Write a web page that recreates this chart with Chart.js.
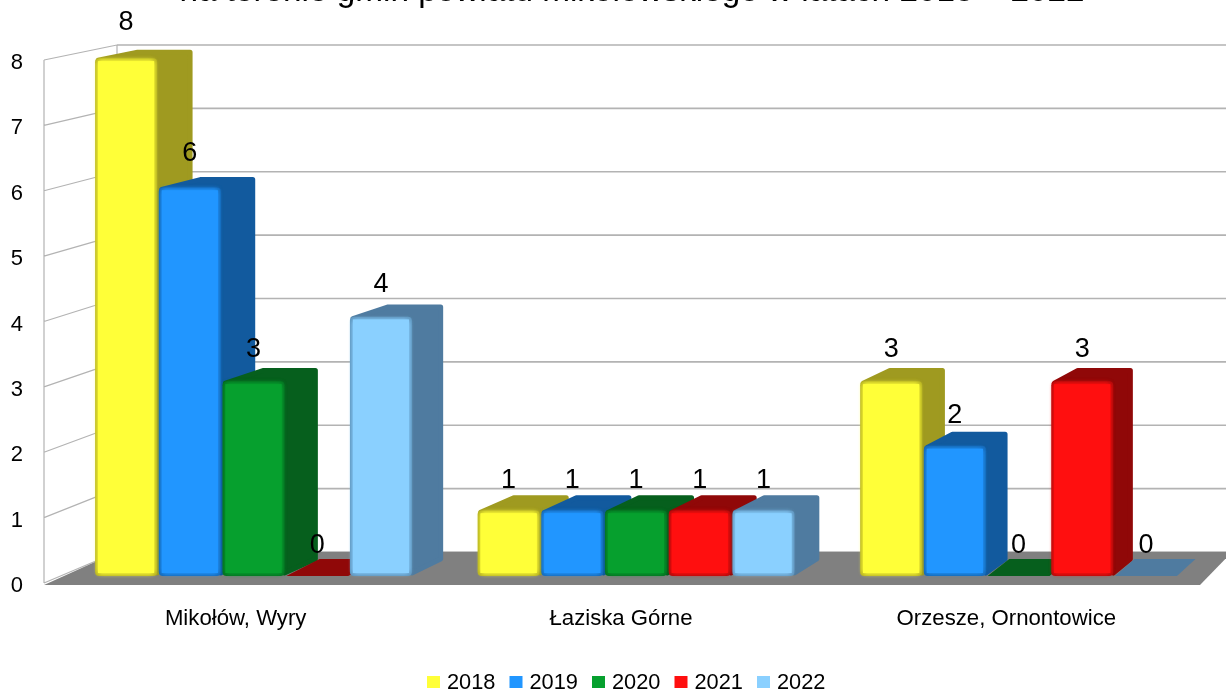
<!DOCTYPE html>
<html lang="pl">
<head>
<meta charset="utf-8">
<title>Wykres</title>
<script src="https://cdn.jsdelivr.net/npm/chart.js@4"></script>
<style>
    html, body { margin: 0; padding: 0; background: #fff; overflow: hidden; }
    canvas { display: block; }
</style>
</head>
<body>
<canvas id="mychart" width="1226" height="691"></canvas>
<script>
const titleText = 'na terenie gmin powiatu mikołowskiego w latach 2018 – 2022'
const categories = ['Mikołów, Wyry', 'Łaziska Górne', 'Orzesze, Ornontowice']
const years = ['2018', '2019', '2020', '2021', '2022']
const values2018 = [8, 1, 3]
const values2019 = [6, 1, 2]
const values2020 = [3, 1, 0]
const values2021 = [0, 1, 3]
const values2022 = [4, 1, 0]
const yTicks = [0, 1, 2, 3, 4, 5, 6, 7, 8]

const frontColors = ['#ffff38', '#2196ff', '#06a02e', '#ff0f0f', '#8ad0ff']
const edgeColors = ['#b5b022', '#1668b5', '#067022', '#b00c0c', '#5f94bd']
const sideColors = ['#9f9a20', '#125a9e', '#065f1d', '#900808', '#4f7ba0']
const fontName = '"Liberation Sans", Arial, sans-serif'

// przejscie ze skali wykresu na plaszczyzne tylnej sciany i przednia sciane slupkow
const backX = x => x + 73 - (x - 44) * 0.0355
const backY = y => 552 - (583 - y) * 0.9694
const barX = x => 62.25 + (x - 44) * 0.9927
const barY = y => 576 - (583 - y) * 0.988
const depthX = x => 36.5 - (x - 95) * 0.0166
const depthY = y => 9.5 + (y - 59) * 0.0145

function drawWalls(chart) {
    const ctx = chart.ctx
    const yScale = chart.scales.y
    const area = chart.chartArea

    ctx.save()
    ctx.strokeStyle = '#b3b3b3'
    ctx.lineWidth = 1.2
    ctx.beginPath()
    ctx.moveTo(area.left, yScale.getPixelForValue(8))
    ctx.lineTo(area.left, area.bottom)
    ctx.moveTo(backX(area.left), backY(yScale.getPixelForValue(8)))
    ctx.lineTo(backX(area.left), backY(area.bottom))
    yTicks.forEach(v => {
        const y = yScale.getPixelForValue(v)
        ctx.moveTo(area.left, y)
        ctx.lineTo(backX(area.left), backY(y))
    })
    ctx.stroke()

    ctx.lineWidth = 1.6
    ctx.beginPath()
    yTicks.forEach(v => {
        const y = backY(yScale.getPixelForValue(v))
        ctx.moveTo(backX(area.left), y)
        ctx.lineTo(backX(area.right), y)
    })
    ctx.stroke()

    // podloga
    ctx.fillStyle = '#808080'
    ctx.beginPath()
    ctx.moveTo(area.left, area.bottom + 2)
    ctx.lineTo(area.right, area.bottom + 2)
    ctx.lineTo(backX(area.right), backY(area.bottom))
    ctx.lineTo(backX(area.left), backY(area.bottom))
    ctx.closePath()
    ctx.fill()
    ctx.restore()
}

function drawBar(ctx, el, index) {
    const w = el.width * 0.9927 - 1.7
    const x0 = barX(el.x) - w / 2
    const x1 = x0 + w
    const top = barY(el.y)
    const bottom = barY(el.base)

    ctx.fillStyle = sideColors[index]
    ctx.strokeStyle = sideColors[index]
    ctx.lineJoin = 'round'

    if (top >= bottom - 1) {
        // wartosc 0 - plaski prostokat na podlodze
        ctx.beginPath()
        ctx.moveTo(x0, bottom)
        ctx.lineTo(x1, bottom)
        ctx.lineTo(x1 + depthX(x1), bottom - depthY(bottom))
        ctx.lineTo(x0 + depthX(x0), bottom - depthY(bottom))
        ctx.closePath()
        ctx.fill()
        return
    }

    ctx.lineWidth = 5
    ctx.beginPath()
    ctx.moveTo(x0 + 3, top + 1)
    ctx.lineTo(x0 + depthX(x0) + 6, top - depthY(top) + 2.5)
    ctx.lineTo(x1 + depthX(x1) - 2.5, top - depthY(top) + 2.5)
    ctx.lineTo(x1 + depthX(x1) - 2.5, bottom - depthY(bottom))
    ctx.lineTo(x1, bottom - 3)
    ctx.closePath()
    ctx.fill()
    ctx.stroke()

    ctx.fillStyle = edgeColors[index]
    ctx.beginPath()
    ctx.roundRect(x0, top - 1, w, bottom - top + 1, 4)
    ctx.fill()

    ctx.save()
    ctx.shadowColor = frontColors[index]
    ctx.shadowBlur = 5
    ctx.fillStyle = frontColors[index]
    for (let n = 0; n < 2; n++) {
        ctx.fillRect(x0 + 3, top + 2, w - 6, bottom - top - 5)
    }
    ctx.restore()
}

const bars3d = {
    id: 'bars3d',
    beforeDatasetsDraw(chart) {
        const ctx = chart.ctx
        drawWalls(chart)
        ctx.save()
        chart.data.datasets.forEach((ds, i) => {
            chart.getDatasetMeta(i).data.forEach(el => drawBar(ctx, el, i))
        })
        ctx.restore()
        return false
    },
    afterDraw(chart) {
        const ctx = chart.ctx
        ctx.save()

        // etykiety wartosci
        ctx.fillStyle = '#000'
        ctx.font = '27px ' + fontName
        ctx.textAlign = 'center'
        ctx.textBaseline = 'middle'
        chart.data.datasets.forEach((ds, i) => {
            chart.getDatasetMeta(i).data.forEach((el, j) => {
                ctx.fillText(ds.data[j], barX(el.x), el.y - 37)
            })
        })

        // tytul, przyciety u gory tak jak w oryginale
        ctx.font = '33.3px ' + fontName
        ctx.textBaseline = 'alphabetic'
        ctx.fillText(titleText, 632, 1)

        // legenda
        ctx.font = '21.8px ' + fontName
        ctx.textAlign = 'left'
        ctx.textBaseline = 'middle'
        years.forEach((year, i) => {
            const x = 427 + i * 82.5
            ctx.fillStyle = frontColors[i]
            ctx.fillRect(x, 676, 13, 12)
            ctx.fillStyle = '#000'
            ctx.fillText(year, x + 20, 683)
        })
        ctx.restore()
    }
}

const seriesValues = [values2018, values2019, values2020, values2021, values2022]

new Chart(document.getElementById('mychart'), {
    type: 'bar',
    plugins: [bars3d],
    data: {
        labels: categories,
        datasets: years.map((year, i) => ({
            label: year,
            data: seriesValues[i],
            backgroundColor: frontColors[i],
            categoryPercentage: 0.8327,
            barPercentage: 1
        }))
    },
    options: {
        responsive: false,
        animation: false,
        layout: { padding: { top: 60, right: 26 } },
        plugins: {
            legend: { display: false },
            tooltip: { enabled: false }
        },
        scales: {
            x: {
                afterFit: scale => { scale.height = 108 },
                grid: { display: false },
                border: { display: false },
                ticks: {
                    color: '#000',
                    padding: 15,
                    maxRotation: 0,
                    labelOffset: -1,
                    font: { family: fontName, size: 22.2 }
                }
            },
            y: {
                min: 0,
                max: 8,
                afterFit: scale => { scale.width = 44 },
                grid: { display: false },
                border: { display: false },
                ticks: {
                    color: '#000',
                    padding: 13,
                    stepSize: 1,
                    labelOffset: 3,
                    font: { family: fontName, size: 22 }
                }
            }
        }
    }
})
</script>
</body>
</html>
